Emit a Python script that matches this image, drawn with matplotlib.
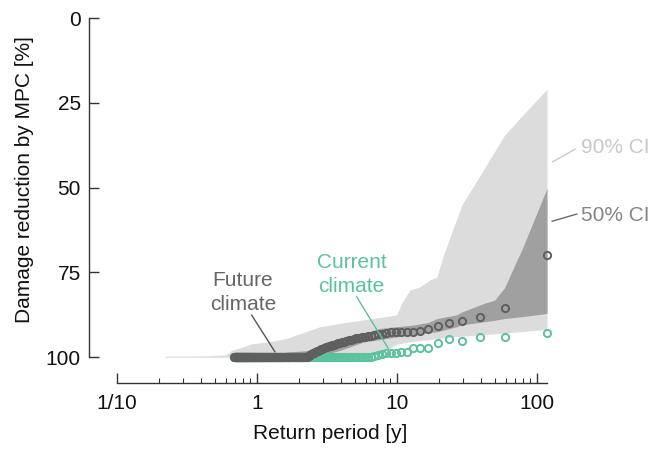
import numpy as np
import matplotlib
matplotlib.use("Agg")
import matplotlib.pyplot as plt
from matplotlib.ticker import FixedLocator, FixedFormatter, NullFormatter

plt.rcParams['font.family'] = ['Liberation Sans', 'DejaVu Sans']

# ---------------- data ----------------
n_years = 118
# damage reduction [%] of the observed events, sorted by rank (rank 1 = largest event)
future_climate = [70.0, 85.6, 88.1, 89.3, 90.0, 90.8, 91.7, 92.2, 92.5, 92.5,
                  92.6, 92.6, 92.7, 93.0, 93.2, 93.3, 93.5, 93.6, 93.7, 93.9,
                  94.0, 94.2, 94.4, 94.6, 94.8, 95.0, 95.2, 95.4, 95.6, 95.8,
                  95.9, 96.1, 96.3, 96.4, 96.6, 96.8, 97.0, 97.1, 97.3, 97.5,
                  97.7, 97.9, 98.1, 98.3, 98.5, 98.7, 98.9, 99.1, 99.3, 99.5,
                  99.7, 99.9] + [100.0] * 118
current_climate = [92.9, 93.9, 94.1, 95.1, 94.5, 95.7, 97.4, 97.4, 97.4, 98.6,
                   98.6, 98.7, 98.8, 98.9, 99.1, 99.4, 99.6, 99.8] + [100.0] * 152

# confidence bands: return period [y], upper / lower bound of damage reduction [%]
ci90_period = [0.22, 0.45, 0.60, 0.66, 0.75, 0.94, 1.2, 1.65, 2.2, 2.83, 3.4, 3.93,
               4.8, 5.74, 7.0, 8.5, 10.0, 10.9, 12.4, 14.6, 17.2, 19.4, 21.4, 25.1,
               29.3, 40.0, 59.0, 80.0, 118.5]
ci90_top = [99.7, 99.6, 99.3, 98.0, 97.3, 96.0, 95.5, 94.4, 92.6, 91.0, 90.5, 90.0,
            89.5, 89.0, 88.5, 88.0, 87.5, 84.0, 80.2, 79.3, 77.3, 76.3, 70.4, 62.5,
            55.0, 46.0, 34.5, 28.5, 21.0]
ci90_bottom = [100.0, 100.0, 100.0, 100.0, 100.0, 100.0, 100.0, 100.0, 100.0, 100.0,
               100.0, 100.0, 100.0, 99.8, 99.2, 97.8, 96.2, 95.9, 95.5, 95.1, 94.8,
               94.5, 94.3, 94.0, 93.8, 93.4, 92.9, 92.4, 91.8]

ci50_period = [1.54, 1.6, 2.4, 3.2, 3.93, 4.4, 5.8, 7.6, 10.0, 13.2, 16.7, 19.4,
               27.0, 28.6, 43.0, 50.0, 59.0, 80.0, 118.5]
ci50_top = [100.0, 98.5, 98.0, 96.2, 95.3, 94.0, 93.0, 91.5, 91.0, 90.5, 89.8, 88.6,
            87.5, 86.8, 84.0, 83.2, 79.5, 67.4, 50.2]
ci50_bottom = [100.0, 100.0, 100.0, 99.0, 98.0, 97.3, 95.5, 94.8, 94.0, 93.3, 92.8,
               92.5, 91.0, 90.5, 89.5, 89.1, 88.6, 88.0, 87.1]

x_ticks = [0.1, 1, 10, 100]
x_tick_labels = ['1/10', '1', '10', '100']
y_ticks = [0, 25, 50, 75, 100]

# ---------------- plot ----------------
rank = np.arange(1, len(future_climate) + 1)
return_period = n_years / rank

W, H = 665, 449
fig = plt.figure(figsize=(W / 100, H / 100), dpi=100)
ax = fig.add_axes([89 / W, (H - 383) / H, (547 - 89) / W, (383 - 18) / H])

light = '#dcdcdc'
mid = '#a0a0a0'
dark = '#5f5f5f'
teal = '#5cc29e'

ax.fill_between(ci90_period, ci90_top, ci90_bottom, color=light, lw=0, zorder=1)
ax.fill_between(ci50_period, ci50_top, ci50_bottom, color=mid, lw=0, zorder=2)

ax.plot(return_period, current_climate, ls='none', marker='o', ms=5.2, mfc='none',
        mec=teal, mew=1.4, zorder=3, clip_on=False)
ax.plot(return_period, future_climate, ls='none', marker='o', ms=5.2, mfc='none',
        mec=dark, mew=1.4, zorder=4, clip_on=False)

ax.set_xscale('log')
ax.set_xlim(0.0634, 118.5)
ax.set_ylim(107.6, 0)

for s in ['top', 'right']:
    ax.spines[s].set_visible(False)
ax.spines['left'].set_bounds(0, 100)
ax.spines['bottom'].set_bounds(0.1, 118.5)
for s in ['left', 'bottom']:
    ax.spines[s].set_color('#333333')
    ax.spines[s].set_linewidth(1.0)

ax.set_yticks(y_ticks)
ax.xaxis.set_major_locator(FixedLocator(x_ticks))
ax.xaxis.set_major_formatter(FixedFormatter(x_tick_labels))
minor = [m * d for d in [0.1, 1, 10] for m in range(2, 10)]
ax.xaxis.set_minor_locator(FixedLocator(minor))
ax.xaxis.set_minor_formatter(NullFormatter())

ax.tick_params(axis='both', which='major', direction='in', length=7, width=1.0,
               color='#333333', labelsize=15, labelcolor='#111111')
ax.tick_params(axis='x', which='minor', direction='in', length=3.5, width=0.8,
               color='#333333')
ax.tick_params(axis='x', which='major', pad=8)
ax.tick_params(axis='y', which='major', pad=6)

ax.set_xlabel('Return period [y]', fontsize=15, color='#111111')
ax.set_ylabel('Damage reduction by MPC [%]', fontsize=15, color='#111111')
ax.xaxis.set_label_coords((330 - 89) / 458, -(424 - 383) / 365)
ax.yaxis.set_label_coords((34 - 89) / 458, (383 - 180) / 365)

# annotations
ax.text(207, 38.1, '90% CI', fontsize=15, color='#c8c8c8', ha='left', va='center',
        clip_on=False)
ax.plot([130, 187.7], [42.4, 38.7], color='#c8c8c8', lw=1.0, clip_on=False)
ax.text(207, 58.1, '50% CI', fontsize=15, color='#858585', ha='left', va='center',
        clip_on=False)
ax.plot([129, 193.5], [59.9, 57.8], color='#6a6a6a', lw=1.0, clip_on=False)

ax.text(0.798, 81.0, 'Future\nclimate', fontsize=15, color='#666666', ha='center',
        va='center', linespacing=1.35)
ax.plot([0.921, 1.35], [87.6, 98.4], color='#555555', lw=1.0, zorder=5)
ax.text(4.75, 75.6, 'Current\nclimate', fontsize=15, color=teal, ha='center',
        va='center', linespacing=1.35)
ax.plot([5.18, 8.71], [82.2, 97.4], color=teal, lw=1.0, zorder=5)

fig.savefig('out.png', dpi=100)
